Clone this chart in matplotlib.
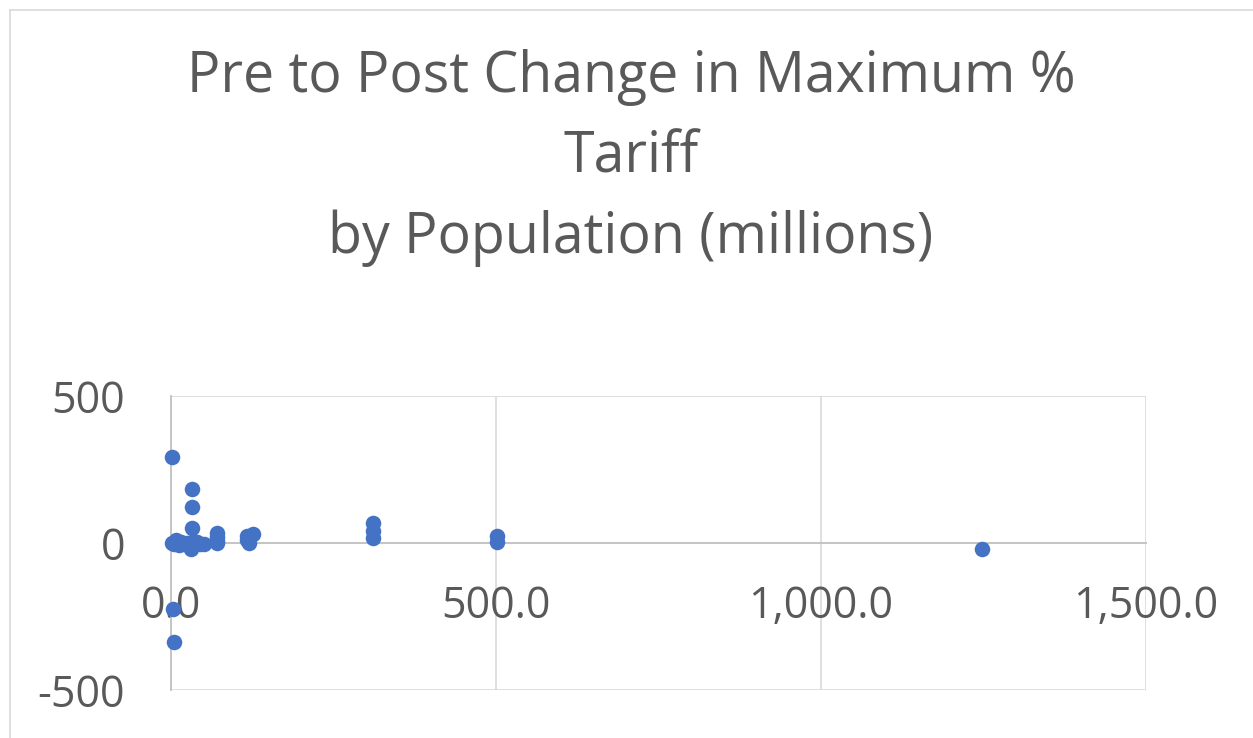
"""Pre/Post tariff change vs population scatter (Excel-style)."""
import matplotlib
matplotlib.use("Agg")
import matplotlib.pyplot as plt
from matplotlib.lines import Line2D

# population (millions) and change in maximum % tariff
population = [2, 1, 5, 8, 10, 12, 15, 20, 25, 30, 32, 32, 32, 32, 35, 40, 45, 50,
              70, 70, 70, 70, 117, 117, 120, 126, 310, 310, 310, 502, 502, 1248,
              3, 4]
tariff_change = [292, 0, -5, 10, 0, -8, 5, -3, 0, -20, 183, 122, 50, 5, 0, 5, -5, -5,
                 34, 20, 8, 0, 25, 10, 0, 30, 69, 41, 16, 25, 5, -21,
                 -224, -337]

xticks = [0, 500, 1000, 1500]
xtick_labels = ["0.0", "500.0", "1,000.0", "1,500.0"]
yticks = [-500, 0, 500]
ytick_labels = ["-500", "0", "500"]
title = "Pre to Post Change in Maximum %\nTariff\nby Population (millions)"

W, H = 1253, 738
fig = plt.figure(figsize=(W / 100, H / 100), dpi=100)
ax = fig.add_axes([171 / W, 1 - 690 / H, (1146 - 171) / W, (690 - 396) / H])

ax.set_xlim(0, 1500); ax.set_ylim(-500, 500)
for s in ("top", "right"):
    ax.spines[s].set_visible(False)
ax.spines["bottom"].set_position(("data", 0))
ax.spines["left"].set_position(("data", 0))
for s in ("bottom", "left"):
    ax.spines[s].set_color("#bfbfbf"); ax.spines[s].set_linewidth(1.3)

for y in (-500, 500):
    ax.axhline(y, color="#d9d9d9", lw=1.2, zorder=0)
for x in (500, 1000, 1500):
    ax.axvline(x, color="#d9d9d9", lw=1.2, zorder=0)

ax.set_xticks(xticks, xtick_labels)
ax.set_yticks(yticks, ytick_labels)
ax.tick_params(length=0, labelsize=31, labelcolor="#595959")
ax.tick_params(axis="x", pad=30)
ax.tick_params(axis="y", pad=33)
for lbl in ax.get_xticklabels() + ax.get_yticklabels():
    lbl.set_fontfamily("Open Sans")

ax.scatter(population, tariff_change, s=125, color="#4472C4", zorder=5, clip_on=False,
           linewidths=0)

fig.text(631 / W, 1 - 158 / H, title, ha="center", va="center", fontsize=40,
         color="#595959", family="Open Sans", linespacing=1.53)

# chart frame (light gray, only top/left visible in the crop)
fig.add_artist(Line2D([10 / W, 1], [1 - 10 / H] * 2, color="#d9d9d9", lw=1.2,
                      transform=fig.transFigure))
fig.add_artist(Line2D([10 / W] * 2, [0, 1 - 10 / H], color="#d9d9d9", lw=1.2,
                      transform=fig.transFigure))

fig.savefig("out.png", dpi=100)
